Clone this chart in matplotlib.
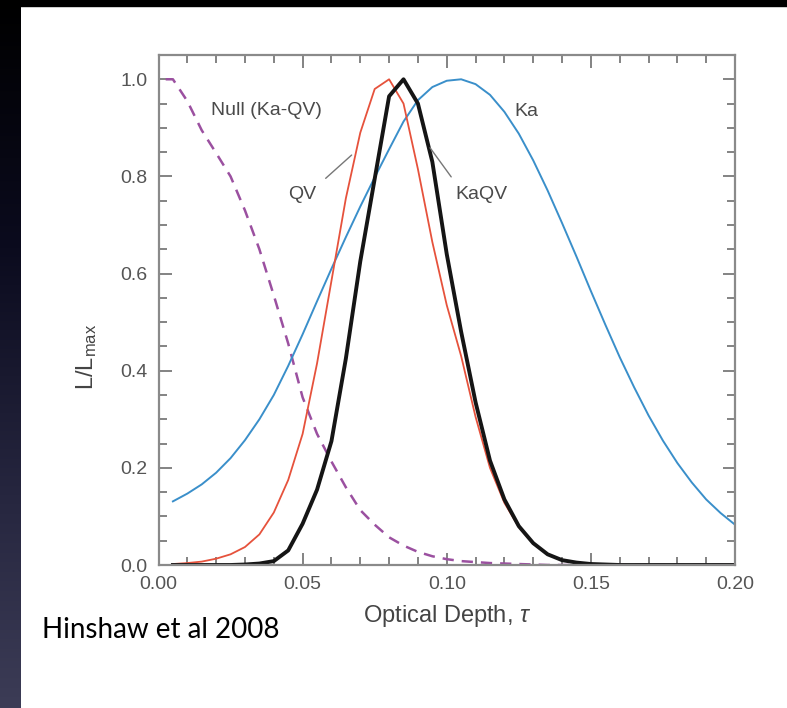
import matplotlib.pyplot as plt
import numpy as np
from matplotlib.ticker import MultipleLocator
from matplotlib.patches import Rectangle
from matplotlib.colors import LinearSegmentedColormap

plt.rcParams['font.family'] = ['Liberation Sans', 'DejaVu Sans']
plt.rcParams['mathtext.fontset'] = 'custom'
plt.rcParams['mathtext.rm'] = 'Liberation Sans'
plt.rcParams['mathtext.it'] = 'Liberation Sans:italic'

# optical depth grid and normalised likelihoods
tau = np.linspace(0.005, 0.200, 40)
ka = [0.131, 0.147, 0.166, 0.190, 0.220, 0.257, 0.300, 0.350, 0.410, 0.475,
      0.543, 0.610, 0.675, 0.738, 0.798, 0.856, 0.913, 0.957, 0.984, 0.997,
      1.000, 0.990, 0.968, 0.933, 0.888, 0.833, 0.771, 0.704, 0.635, 0.564,
      0.495, 0.428, 0.366, 0.308, 0.256, 0.210, 0.170, 0.135, 0.107, 0.083]
qv = [0.002, 0.004, 0.007, 0.013, 0.022, 0.037, 0.063, 0.108, 0.175, 0.270,
      0.415, 0.585, 0.755, 0.890, 0.980, 1.000, 0.950, 0.815, 0.665, 0.535,
      0.430, 0.305, 0.200, 0.128, 0.078, 0.044, 0.022, 0.010, 0.005, 0.002,
      0.001, 0.0, 0.0, 0.0, 0.0, 0.0, 0.0, 0.0, 0.0, 0.0]
kaqv = [0.0, 0.0, 0.0, 0.0, 0.0, 0.001, 0.003, 0.008, 0.030, 0.085,
        0.155, 0.255, 0.425, 0.625, 0.795, 0.965, 1.000, 0.950, 0.830, 0.640,
        0.480, 0.335, 0.215, 0.135, 0.080, 0.045, 0.022, 0.010, 0.005, 0.002,
        0.001, 0.0, 0.0, 0.0, 0.0, 0.0, 0.0, 0.0, 0.0, 0.0]
null_tau = np.concatenate([[0.0025], tau])
null = [1.000, 1.000, 0.955, 0.895, 0.848, 0.800, 0.730, 0.650, 0.555, 0.456,
        0.345, 0.270, 0.213, 0.160, 0.113, 0.083, 0.057, 0.040, 0.027, 0.018,
        0.012, 0.008, 0.006, 0.004, 0.003, 0.002, 0.001, 0.0, 0.0, 0.0,
        0.0, 0.0, 0.0, 0.0, 0.0, 0.0, 0.0, 0.0, 0.0, 0.0, 0.0]

fig = plt.figure(figsize=(7.87, 7.08), dpi=100)
fig.patch.set_facecolor('white')

# dark slide edge on the left and top
strip = fig.add_axes([0, 0, 21 / 787, 1])
cmap = LinearSegmentedColormap.from_list(
    'edge', [(0, '#000000'), (0.35, '#0b0b1e'), (0.7, '#26263f'), (1, '#3c3c56')])
strip.imshow(np.linspace(0, 1, 256).reshape(-1, 1), aspect='auto', cmap=cmap)
strip.axis('off')
fig.add_artist(Rectangle((0, 1 - 6 / 708), 1, 6 / 708, transform=fig.transFigure,
                         color='black', zorder=10))

ax = fig.add_axes([158.5 / 787, 1 - 565 / 708, 576.5 / 787, 510 / 708])
ax.plot(null_tau, null, color='#9b50a0', lw=1.8, dashes=(4.5, 3.2))
ax.plot(tau, ka, color='#3a8fca', lw=1.4)
ax.plot(tau, qv, color='#e6523c', lw=1.3)
ax.plot(tau, kaqv, color='#151515', lw=2.8)

ax.set_xlim(0, 0.20)
ax.set_ylim(0, 1.05)
ax.xaxis.set_major_locator(MultipleLocator(0.05))
ax.xaxis.set_minor_locator(MultipleLocator(0.01))
ax.yaxis.set_major_locator(MultipleLocator(0.2))
ax.yaxis.set_minor_locator(MultipleLocator(0.05))
ax.xaxis.set_major_formatter(lambda v, p: f'{v:.2f}')
ax.yaxis.set_major_formatter(lambda v, p: f'{v:.1f}')
ax.tick_params(which='both', direction='in', top=True, right=True,
               color='#6e6e6e', width=1.2, labelcolor='#555555', labelsize=14)
ax.tick_params(which='major', length=9, pad=8)
ax.tick_params(which='minor', length=5.5)
for s in ax.spines.values():
    s.set_color('#8a8a8a')
    s.set_linewidth(1.6)

ax.set_xlabel(r'Optical Depth, $\it{\tau}$', fontsize=17, color='#444444', labelpad=7)
fig.text(87 / 787, 1 - 357 / 708, r'L/L$_{\rm max}$', rotation=90, fontsize=17,
         color='#444444', ha='center', va='center')

txt = dict(fontsize=14, color='#4a4a4a', ha='center', va='center')
ax.text(0.0375, 0.935, 'Null (Ka-QV)', **txt)
ax.text(0.1275, 0.933, 'Ka', **txt)
ax.annotate('QV', xy=(0.0670, 0.844), xytext=(0.050, 0.762),
            arrowprops=dict(arrowstyle='-', color='#777777', lw=1.0,
                            relpos=(1, 1), shrinkA=6, shrinkB=0), **txt)
ax.annotate('KaQV', xy=(0.0942, 0.859), xytext=(0.1119, 0.762),
            arrowprops=dict(arrowstyle='-', color='#777777', lw=1.0,
                            relpos=(0.06, 1), shrinkA=6, shrinkB=0), **txt)

fig.text(42 / 787, 1 - 638 / 708, 'Hinshaw et al 2008', family='Lato',
         fontsize=20, color='black', va='baseline')

fig.savefig('out.png', dpi=100)
